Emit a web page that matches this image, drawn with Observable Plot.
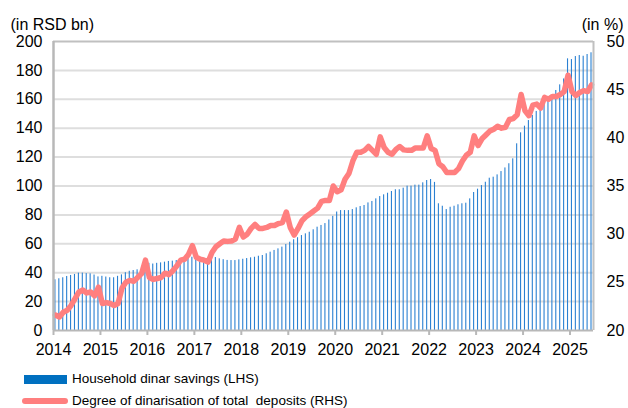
<!DOCTYPE html>
<html><head><meta charset="utf-8">
<script src="https://cdn.jsdelivr.net/npm/d3@7"></script>
<script src="https://cdn.jsdelivr.net/npm/@observablehq/plot@0.6"></script>
<style>
html,body{margin:0;padding:0;background:#fff;}
body{font-family:"Liberation Sans",Arial,sans-serif;width:628px;height:408px;overflow:hidden;}
#legend{position:relative;height:48px;font-size:13.5px;color:#000;}
.row{position:absolute;left:0;height:16px;display:flex;align-items:center;}
.sw1{position:absolute;left:24px;width:43px;height:9px;top:3.5px;background:#0070C0;}
.sw2{position:absolute;left:22px;width:46px;height:5.5px;top:5px;background:#ff7f7f;border-radius:3px;}
.lab{position:absolute;left:72px;top:0;line-height:16px;white-space:pre;}
</style></head><body>
<div id="chart"></div>
<div id="legend">
  <div class="row" style="top:11px"><div class="sw1"></div><div class="lab">Household dinar savings (LHS)</div></div>
  <div class="row" style="top:33px"><div class="sw2"></div><div class="lab">Degree of dinarisation of total  deposits (RHS)</div></div>
</div>
<script>
const years = ["2014","2015","2016","2017","2018","2019","2020","2021","2022","2023","2024","2025"];
const leftTicks = [0,20,40,60,80,100,120,140,160,180,200];
const rightTicks = [20,25,30,35,40,45,50];
// Household dinar savings, RSD bn, monthly Jan 2014 - Jun 2025
const savings = [
  35.1,35.8,36.5,37.4,38.1,38.8,39.7,39.7,39.4,39.2,38.4,37.1,
  37.5,37.0,36.5,36.5,37.5,38.5,40.0,41.0,41.5,42.0,42.0,43.5,
  46.5,46.0,46.5,46.8,47.3,47.8,48.0,48.4,49.0,49.6,50.2,50.7,
  51.0,50.5,50.0,49.8,50.0,50.5,49.6,49.0,48.5,48.4,48.4,48.9,
  49.3,49.8,50.3,50.7,51.4,51.9,53.1,54.2,55.4,56.5,57.7,59.5,
  61.1,62.8,64.2,65.7,66.9,68.0,69.7,71.5,72.7,74.0,76.5,79.0,
  82.0,83.0,83.0,83.0,83.7,84.9,85.8,86.5,88.3,89.3,91.1,92.7,
  93.9,95.0,96.2,97.4,97.4,98.5,99.9,99.9,100.6,100.6,102.2,103.8,
  104.5,102.5,87.7,86.0,83.7,85.3,86.0,87.0,87.7,88.1,91.1,95.5,
  97.8,100.3,102.6,105.4,106.1,107.7,110.0,112.5,115.4,118.8,129.2,136.8,
  141.4,145.3,148.8,151.6,156.2,156.9,159.2,162.6,166.1,170.0,174.1,188.0,
  187.5,189.6,190.3,189.8,191.0,192.2
];
// Degree of dinarisation of total deposits, %, monthly
const dinarisation = [
  21.6,21.4,21.9,22.1,22.6,23.3,24.0,24.2,23.9,24.0,23.6,24.5,
  22.8,22.9,22.8,22.6,22.8,24.4,25.0,25.2,25.1,25.5,25.9,27.3,
  25.5,25.3,25.4,25.5,25.95,25.8,26.2,26.7,27.3,27.4,27.9,28.8,
  27.6,27.4,27.3,27.1,28.1,28.7,29.0,29.3,29.25,29.3,29.5,30.7,
  29.7,30.0,30.6,31.0,30.6,30.6,30.7,30.9,30.9,31.1,31.2,32.3,
  30.7,29.9,30.6,31.4,31.8,32.1,32.4,32.7,33.4,33.5,33.5,35.0,
  34.4,34.6,35.7,36.3,37.6,38.5,38.5,38.7,39.1,38.7,38.3,40.1,
  39.0,38.5,38.3,38.8,39.1,38.75,38.7,38.7,38.95,38.95,38.95,40.2,
  38.9,38.7,37.3,37.0,36.4,36.4,36.4,36.8,37.6,38.2,38.5,40.2,
  39.2,39.9,40.3,40.7,40.9,41.2,41.0,41.1,41.9,42.0,42.4,44.5,
  42.8,42.3,43.4,43.5,43.1,44.2,44.0,44.3,44.3,44.5,44.8,46.5,
  44.8,44.4,44.7,44.9,44.8,45.5
];
const rMin = 20, rMax = 50, lMax = 200;
const toL = p => (p - rMin) * lMax / (rMax - rMin);
const n = savings.length;
const data = savings.map((v, i) => ({i, v, p: dinarisation[i]}));
const grid = "#dedede", frame = "#c0c0c0";
const chart = Plot.plot({
  width: 628, height: 360,
  marginLeft: 53, marginRight: 35, marginTop: 41, marginBottom: 30,
  style: {fontFamily: "'Liberation Sans', Arial, sans-serif", fontSize: "16px", color: "#000", background: "#fff"},
  x: {domain: [0, n], axis: null},
  y: {domain: [0, lMax], axis: null},
  marks: [
    Plot.ruleY(leftTicks.slice(1, -1), {stroke: grid, strokeWidth: 2}),
    Plot.rect(data, {x1: d => d.i + 0.35, x2: d => d.i + 0.63, y1: 0, y2: "v", fill: "#2a80d2"}),
    Plot.lineY(data, {x: d => d.i + 0.5, y: d => toL(d.p), stroke: "#ff7f7f", strokeWidth: 5.5, strokeLinejoin: "round", strokeLinecap: "round"}),
    Plot.ruleY([lMax], {stroke: frame, strokeWidth: 2}),
    Plot.ruleX([n], {stroke: frame, strokeWidth: 2}),
    Plot.ruleX([0], {stroke: "#b8b8b8", strokeWidth: 2.5}),
    Plot.ruleY([0], {stroke: "#b8b8b8", strokeWidth: 2}),
    Plot.axisY({ticks: leftTicks, tickSize: 0, tickPadding: 11, fontSize: 16, label: null, tickFormat: d => String(d)}),
    Plot.axisY({anchor: "right", ticks: rightTicks.map(toL), tickSize: 0, tickPadding: 13, fontSize: 16, label: null,
                tickFormat: d => String(Math.round(d * (rMax - rMin) / lMax + rMin))}),
    Plot.axisX({ticks: years.map((y, k) => k * 12), tickFormat: d => years[Math.round(d / 12)], label: null,
                tickSize: 5, tickPadding: 8, stroke: "#b8b8b8", strokeWidth: 2, fontSize: 16}),
    Plot.text(["(in RSD bn)"], {frameAnchor: "top-left", dx: -43, dy: -23, textAnchor: "start", fontSize: 16}),
    Plot.text(["(in %)"], {frameAnchor: "top-right", dx: 30, dy: -23, textAnchor: "end", fontSize: 16})
  ]
});
document.getElementById("chart").appendChild(chart);
</script>
</body></html>
